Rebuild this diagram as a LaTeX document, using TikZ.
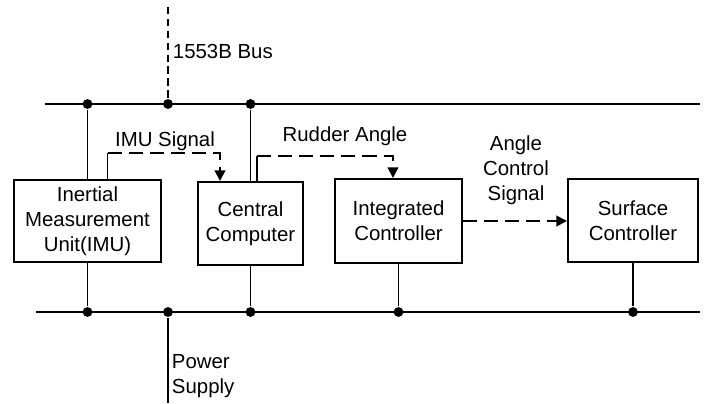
\documentclass[tikz,border=0pt]{standalone}
\usepackage{fontspec}
\setmainfont{Liberation Sans}
\usetikzlibrary{arrows.meta,calc}

\begin{document}
\begin{tikzpicture}[x=0.025cm, y=-0.025cm, line width=1.4pt,
    every node/.style={font=\fontsize{14.5}{17.8}\selectfont},
    block/.style={draw, align=center, inner sep=0pt},
    lbl/.style={inner sep=0pt, align=center},
    dot/.style={circle, fill, inner sep=0pt, minimum size=7pt},
    sig/.style={dash pattern=on 10pt off 5pt, -{Triangle[width=7.5pt,length=7.5pt]}}]
    \useasboundingbox (0,0) rectangle (705,403);

    % Draw blocks
    \node[block, minimum width=3.675cm, minimum height=2.05cm] (imu) at (87.5,221) {Inertial\\Measurement\\Unit(IMU)};
    \node[block, minimum width=2.625cm, minimum height=2.075cm] (cc) at (250.5,223.5) {Central\\Computer};
    \node[block, minimum width=3.175cm, minimum height=2.1cm] (ic) at (398.5,221) {Integrated\\Controller};
    \node[block, minimum width=3.25cm, minimum height=2.075cm] (sc) at (633,220.5) {Surface\\Controller};

    % Draw bus and power rails
    \coordinate (topL) at (45,104);
    \coordinate (topR) at (700,104);
    \coordinate (botL) at (36,312);
    \coordinate (botR) at (700,312);
    \draw (topL) -- (topR);
    \draw (botL) -- (botR);

    % Draw taps on the rails
    \node[dot] (imuTop) at (imu.north |- topL) {};
    \node[dot] (busTop) at (168,104) {};
    \node[dot] (ccTop) at (cc.north |- topL) {};
    \node[dot] (imuBot) at (imu.south |- botL) {};
    \node[dot] (pwrBot) at (168,312) {};
    \node[dot] (ccBot) at (cc.south |- botL) {};
    \node[dot] (icBot) at (ic.south |- botL) {};
    \node[dot] (scBot) at (sc.south |- botL) {};
    \draw (imu.north) -- (imuTop);
    \draw (cc.north) -- (ccTop);
    \draw (imu.south) -- (imuBot);
    \draw (cc.south) -- (ccBot);
    \draw (ic.south) -- (icBot);
    \draw (sc.south) -- (scBot);

    % Draw bus and supply feeds
    \coordinate (busEnd) at (168,7);
    \coordinate (pwrEnd) at (168,403);
    \draw[dash pattern=on 5.5pt off 3pt] (busTop) -- (busEnd);
    \draw (pwrBot) -- (pwrEnd);
    \node[lbl, anchor=west] (busLbl) at (172,51) {1553B Bus};
    \node[lbl, anchor=west, align=left] (pwrLbl) at (171,376) {Power\\Supply};

    % Draw signals
    \draw ($(imu.north)+(20,0)$) -- ++(0,-26) coordinate (imuSig);
    \draw[sig] (imuSig) -| ($(cc.north)+(-30.5,0)$);
    \draw ($(cc.north)+(6.5,0)$) -- ++(0,-25) coordinate (rudSig);
    \draw[sig] (rudSig) -| ($(ic.north)+(-5.5,0)$);
    \draw[sig] (ic.east) -- (ic.east -| sc.west);
    \node[lbl] (imuLbl) at (165,141.5) {IMU Signal};
    \node[lbl] (rudLbl) at (345,136) {Rudder Angle};
    \node[lbl] (acsLbl) at (516,170) {Angle\\Control\\Signal};
\end{tikzpicture}
\end{document}
